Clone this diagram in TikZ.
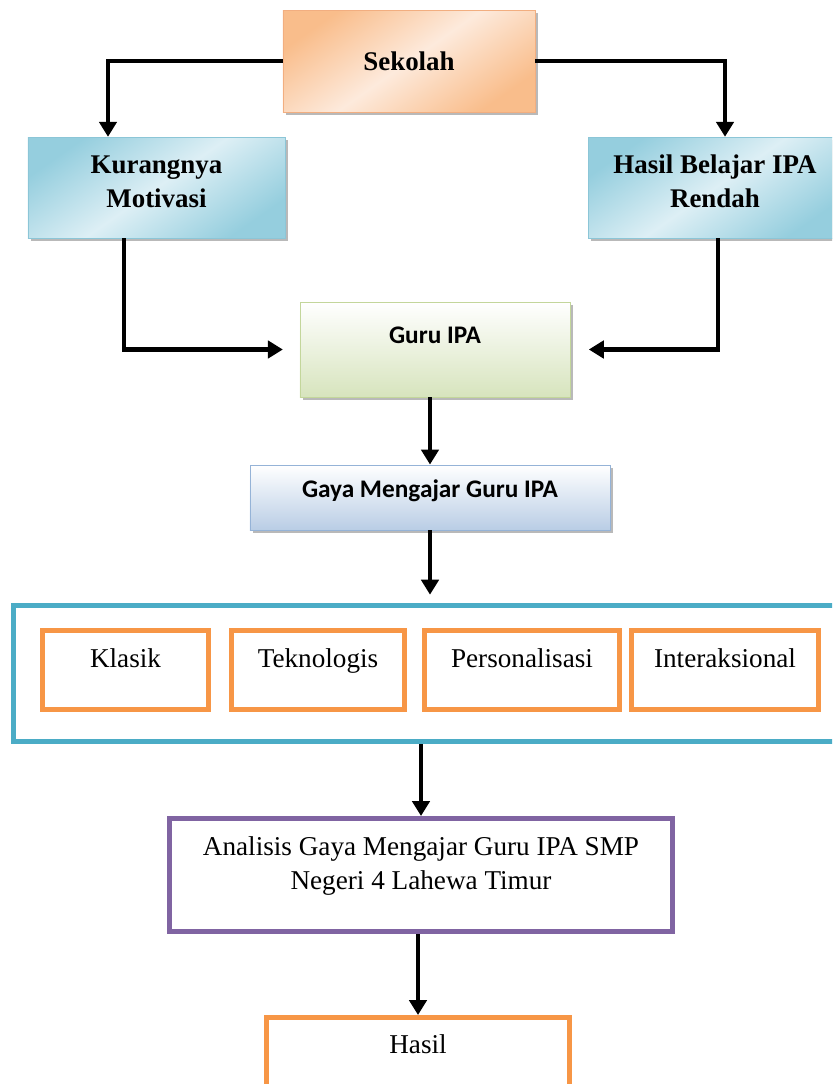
\documentclass[tikz,border=0pt]{standalone}
\usepackage{fontspec}
\setmainfont{Liberation Serif}
\newfontfamily\calibri{Carlito}
\usetikzlibrary{arrows.meta,shadows}

\definecolor{oranyeTua}{HTML}{F9BD8B}
\definecolor{oranyeMuda}{HTML}{FDEADC}
\definecolor{oranyeGaris}{HTML}{F2AE80}
\definecolor{biruTua}{HTML}{95CEDE}
\definecolor{biruMuda}{HTML}{DDEFF5}
\definecolor{biruGaris}{HTML}{8CC6D7}
\definecolor{hijauBawah}{HTML}{D7E4BD}
\definecolor{hijauGaris}{HTML}{C3D69B}
\definecolor{gayaBawah}{HTML}{B9CDE5}
\definecolor{gayaGaris}{HTML}{95B3D7}
\definecolor{tosca}{HTML}{4BACC6}
\definecolor{oranye}{HTML}{F79646}
\definecolor{ungu}{HTML}{8064A2}

\begin{document}
\begin{tikzpicture}[x=0.03cm,y=-0.03cm,>={Triangle[length=0.45cm,width=0.52cm]},
    panah/.style={->,line width=0.13cm},
    kotak/.style={rectangle,inner xsep=0pt,inner ysep=0pt,align=center},
    bayang/.style={drop shadow={shadow xshift=0.09cm,shadow yshift=-0.09cm,fill=black!50,opacity=0.55}},
    judul/.style={font=\fontsize{23}{29}\selectfont\bfseries},
    judulsans/.style={font=\fontsize{21.6}{29}\selectfont\calibri\bfseries},
    isi/.style={font=\fontsize{23.2}{29}\selectfont},
    sekolahbox/.style={kotak,bayang,judul,draw=oranyeGaris,top color=oranyeTua,bottom color=oranyeTua,middle color=oranyeMuda,shading angle=35},
    masalahbox/.style={kotak,bayang,judul,draw=biruGaris,top color=biruTua,bottom color=biruTua,middle color=biruMuda,shading angle=35},
    gurubox/.style={kotak,bayang,judulsans,draw=hijauGaris,line width=0.8pt,top color=white,bottom color=hijauBawah},
    gayabox/.style={kotak,bayang,judulsans,draw=gayaGaris,line width=0.8pt,top color=white,bottom color=gayaBawah},
    jenisbox/.style={kotak,isi,draw=oranye,line width=0.15cm,text height=1.095cm,text depth=1.275cm}]

    \clip (0,0) rectangle (832,1084);

    \node[sekolahbox,minimum width=7.56cm,text height=1.8cm,text depth=1.26cm] (sekolah) at (409,61) {Sekolah};
    \node[masalahbox,minimum width=7.71cm,text height=2.1cm,text depth=0.93cm] (kurang) at (156.5,187.5) {Kurangnya\\Motivasi};
    \node[masalahbox,minimum width=7.62cm,text height=2.1cm,text depth=0.93cm] (hasilb) at (715,187.5) {Hasil Belajar IPA\\Rendah};
    \node[gurubox,minimum width=8.1cm,text height=1.23cm,text depth=1.62cm] (guru) at (435,349.5) {Guru IPA};
    \node[gayabox,minimum width=10.8cm,text height=0.96cm,text depth=0.99cm] (gaya) at (430,497.5) {Gaya Mengajar Guru IPA};

    % gaya mengajar
    \node[kotak,draw=tosca,line width=0.15cm,minimum width=24.93cm,minimum height=4.08cm] (bingkai) at (429,673.5) {};
    \node[jenisbox,minimum width=4.98cm] (klasik) at (125.5,670) {Klasik};
    \node[jenisbox,minimum width=5.19cm] (tekno) at (318,670) {Teknologis};
    \node[jenisbox,minimum width=5.85cm] (person) at (522,670) {Personalisasi};
    \node[jenisbox,minimum width=5.61cm] (inter) at (725,670) {Interaksional};

    \node[kotak,isi,draw=ungu,line width=0.15cm,minimum width=15.09cm,text height=2.115cm,text depth=1.275cm] (analisis) at (421,875) {Analisis Gaya Mengajar Guru IPA SMP\\Negeri 4 Lahewa Timur};
    \node[kotak,isi,draw=oranye,line width=0.15cm,minimum width=9.09cm,text height=1.065cm,text depth=1.41cm] (hasil) at (418,1058.75) {Hasil};

    \draw[panah] (sekolah.west) -| ([xshift=-1.455cm]kurang.north);
    \draw[panah] (sekolah.east) -| ([xshift=0.3cm]hasilb.north);
    \draw[panah,shorten >=0.5cm] ([xshift=-0.975cm]kurang.south) |- (guru.west);
    \draw[panah,shorten >=0.55cm] ([xshift=0.09cm]hasilb.south) |- (guru.east);
    \draw[panah] (gaya.north |- guru.south) -- (gaya.north);
    \draw[panah,shorten >=0.25cm] (gaya.south) -- (gaya.south |- bingkai.north);
    \draw[panah] (analisis.north |- bingkai.south) -- (analisis.north);
    \draw[panah] (hasil.north |- analisis.south) -- (hasil.north);

\end{tikzpicture}
\end{document}
